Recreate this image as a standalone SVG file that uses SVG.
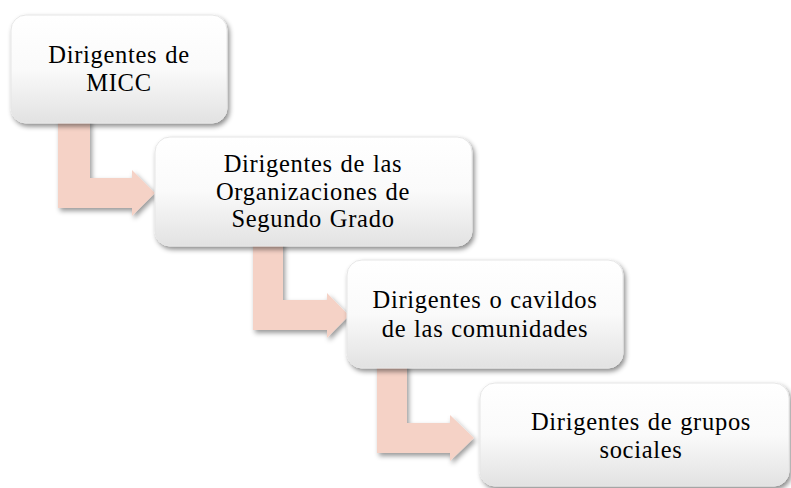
<svg xmlns="http://www.w3.org/2000/svg" width="791" height="488" viewBox="0 0 791 488">
<defs>
<linearGradient id="boxg" x1="0" y1="0" x2="0" y2="1">
<stop offset="0" stop-color="#ffffff"/>
<stop offset="0.5" stop-color="#fafafa"/>
<stop offset="1" stop-color="#e2e2e2"/>
</linearGradient>
<filter id="sh" x="-10%" y="-10%" width="125%" height="130%">
<feDropShadow dx="2" dy="3" stdDeviation="2.5" flood-color="#000" flood-opacity="0.45"/>
</filter>
<filter id="ash" x="-10%" y="-10%" width="130%" height="130%">
<feDropShadow dx="2" dy="3" stdDeviation="2.5" flood-color="#000" flood-opacity="0.4"/>
</filter>
</defs>
<style>
.box{fill:url(#boxg);stroke:#e6e6e6;stroke-width:1;filter:url(#sh)}
.arr{fill:#f5d2c6;filter:url(#ash)}
.t{font-size:24.5px;letter-spacing:0.7px;word-spacing:1px;fill:#000;text-anchor:middle}
</style>
<rect width="791" height="488" fill="#ffffff"/>
<g id="connectors">
<path class="arr" d="M58,118 L90,118 L90,178 L132,178 L132,170 L155,193 L132,216 L132,208 L58,208 Z"/>
<path class="arr" d="M253,240 L283,240 L283,300 L327,300 L327,293 L349,315.5 L327,338 L327,330 L253,330 Z"/>
<path class="arr" d="M377,362 L407,362 L407,423 L450,423 L450,415 L474,438 L450,461 L450,453 L377,453 Z"/>
</g>
<g id="n1">
<rect class="box" x="11" y="15" width="216" height="108" rx="15"/>
<text class="t" font-family="'Liberation Serif', 'Times New Roman', serif" x="119" y="63">Dirigentes de</text>
<text class="t" font-family="'Liberation Serif', 'Times New Roman', serif" x="119" y="91">MICC</text>
</g>
<g id="n2">
<rect class="box" x="155" y="137" width="317" height="109" rx="15"/>
<text class="t" font-family="'Liberation Serif', 'Times New Roman', serif" x="313" y="172">Dirigentes de las</text>
<text class="t" font-family="'Liberation Serif', 'Times New Roman', serif" x="313" y="199.5">Organizaciones de</text>
<text class="t" font-family="'Liberation Serif', 'Times New Roman', serif" x="313" y="227">Segundo Grado</text>
</g>
<g id="n3">
<rect class="box" x="347" y="260" width="276" height="108" rx="15"/>
<text class="t" font-family="'Liberation Serif', 'Times New Roman', serif" x="485" y="308">Dirigentes o cavildos</text>
<text class="t" font-family="'Liberation Serif', 'Times New Roman', serif" x="485" y="337">de las comunidades</text>
</g>
<g id="n4">
<rect class="box" x="480" y="383" width="309" height="103" rx="15"/>
<text class="t" font-family="'Liberation Serif', 'Times New Roman', serif" x="641" y="430">Dirigentes de grupos</text>
<text class="t" font-family="'Liberation Serif', 'Times New Roman', serif" x="641" y="458">sociales</text>
</g>
</svg>
